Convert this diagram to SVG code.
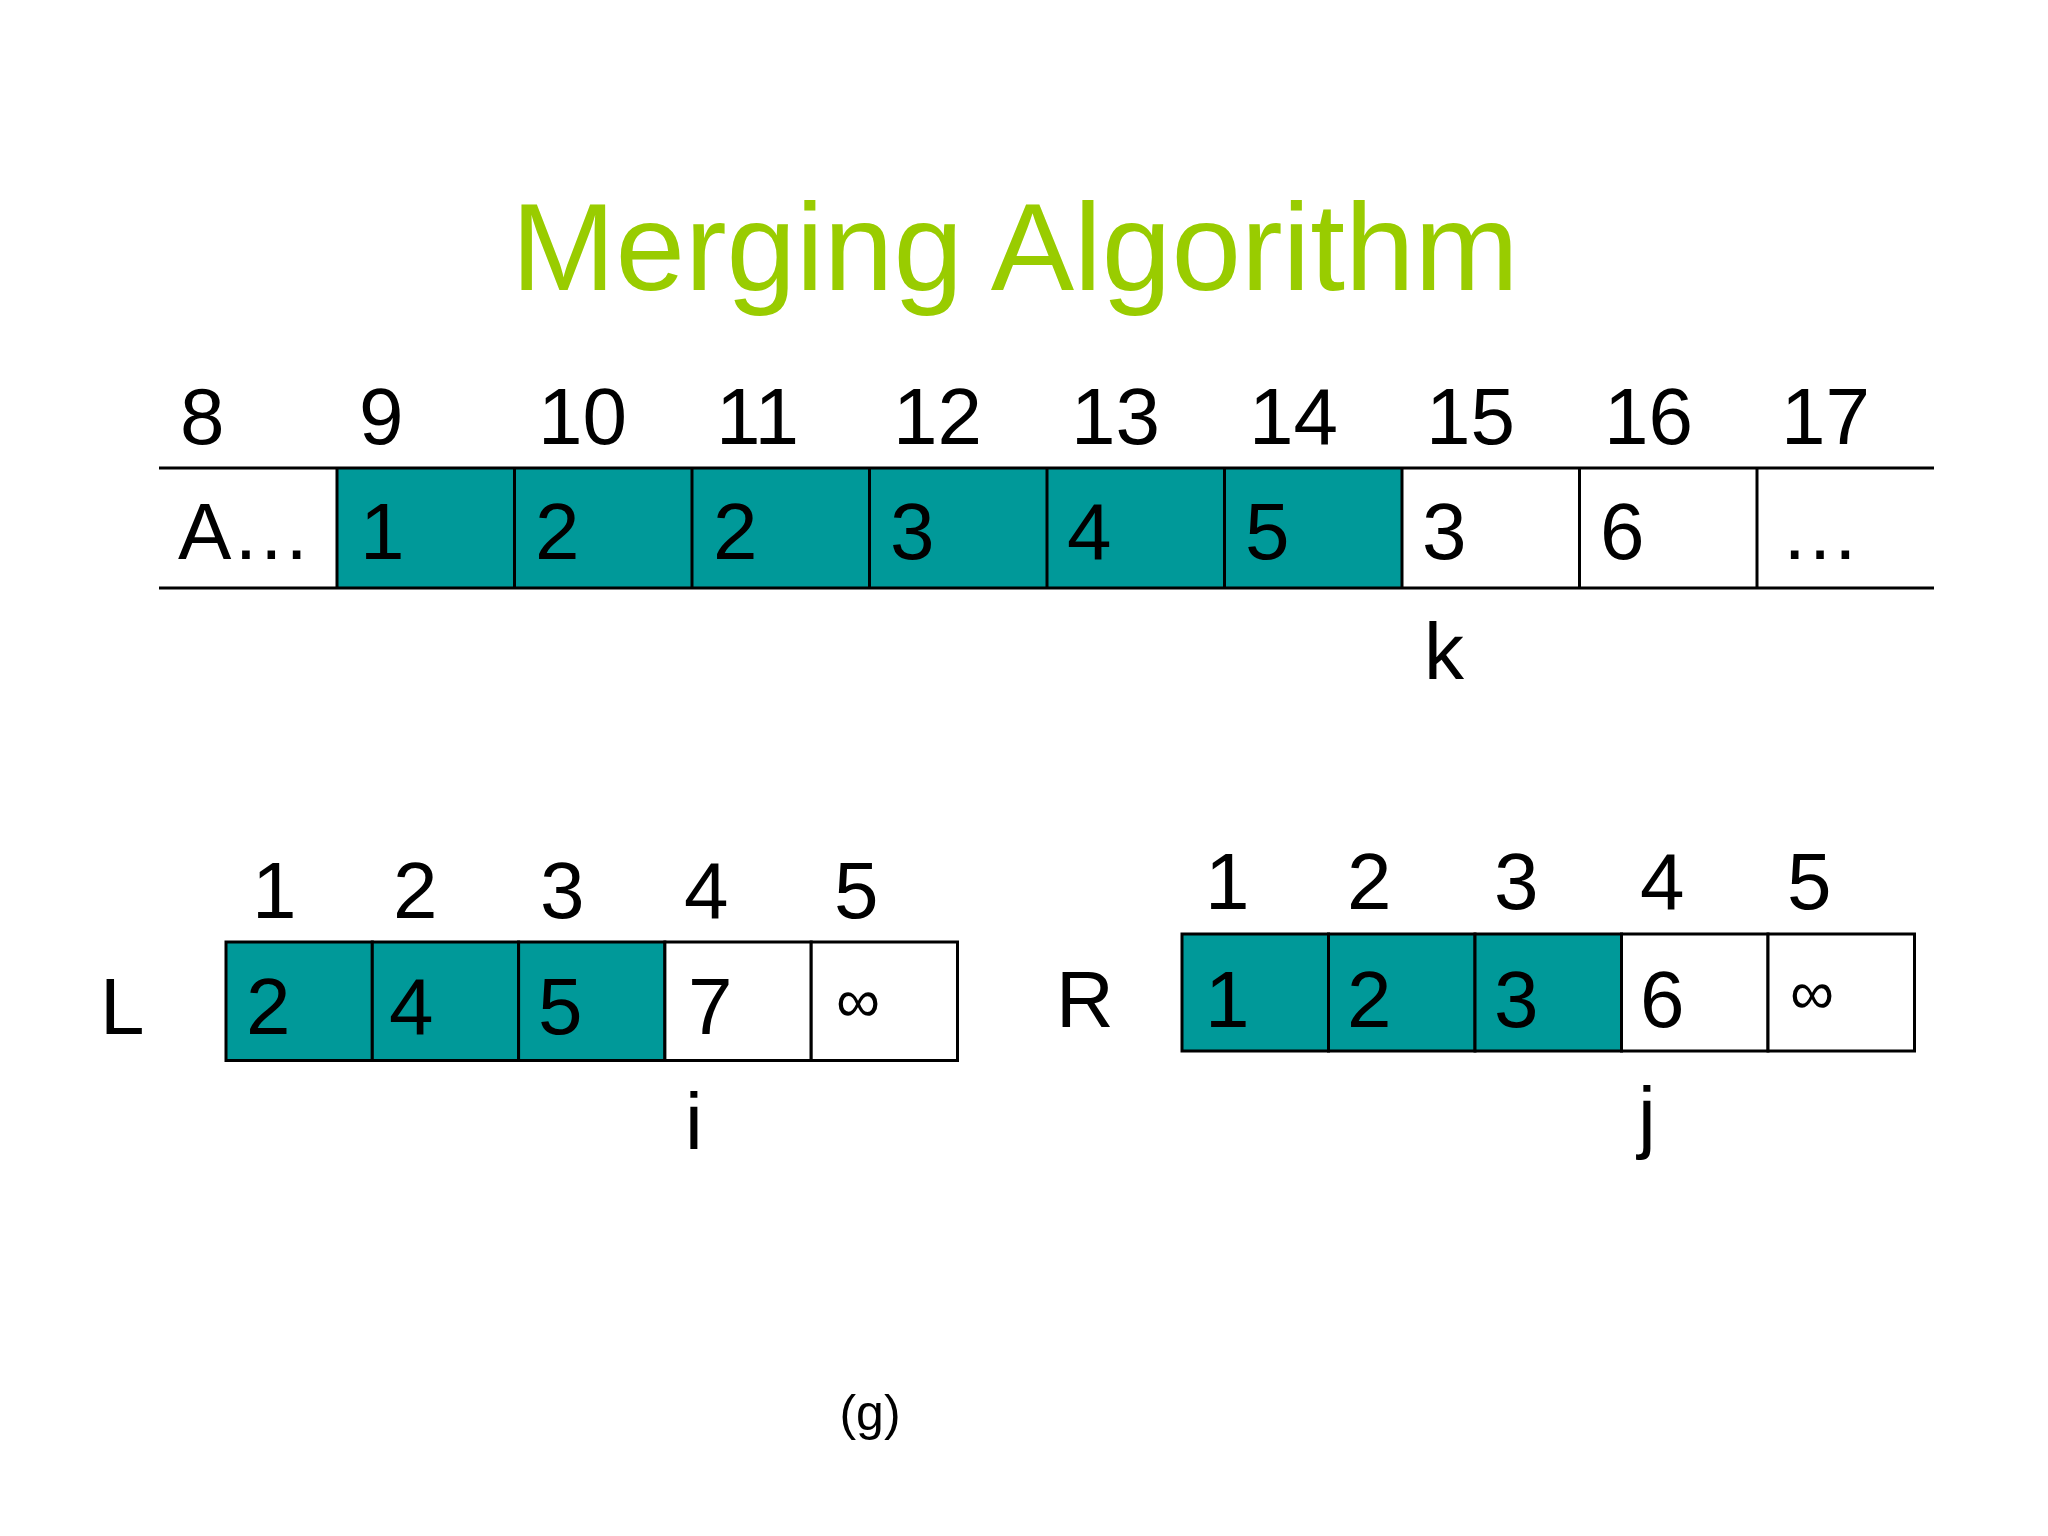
<svg xmlns="http://www.w3.org/2000/svg" width="2048" height="1536" viewBox="0 0 2048 1536">
<style>
text{font-family:"Liberation Sans",Arial,sans-serif;fill:#000}
.t{font-size:125px;fill:#99CC00}
.n{font-size:80px}
.inf{font-size:62px}
.g{font-size:50px}
.fill{fill:#009999;stroke:#000;stroke-width:3}
.empty{fill:#fff;stroke:#000;stroke-width:3}
.ln{stroke:#000;stroke-width:3;fill:none}
</style>
<rect width="2048" height="1536" fill="#fff"/>
<text class="t" x="1015" y="290" text-anchor="middle">Merging Algorithm</text>

<g id="arrayA">
<rect class="fill" x="337" y="468" width="1064" height="120" style="stroke:none"/>
<line class="ln" x1="159" y1="468" x2="1934" y2="468"/>
<line class="ln" x1="159" y1="588" x2="1934" y2="588"/>
<g class="ln">
<line x1="337" y1="468" x2="337" y2="588"/>
<line x1="514.5" y1="468" x2="514.5" y2="588"/>
<line x1="692" y1="468" x2="692" y2="588"/>
<line x1="869.5" y1="468" x2="869.5" y2="588"/>
<line x1="1047" y1="468" x2="1047" y2="588"/>
<line x1="1224.5" y1="468" x2="1224.5" y2="588"/>
<line x1="1402" y1="468" x2="1402" y2="588"/>
<line x1="1579.5" y1="468" x2="1579.5" y2="588"/>
<line x1="1757" y1="468" x2="1757" y2="588"/>
</g>
<g class="n">
<text x="180" y="444">8</text>
<text x="359" y="444">9</text>
<text x="538" y="444">10</text>
<text x="716" y="444">11</text>
<text x="893" y="444">12</text>
<text x="1071" y="444">13</text>
<text x="1249" y="444">14</text>
<text x="1426" y="444">15</text>
<text x="1604" y="444">16</text>
<text x="1781" y="444">17</text>
<text x="178" y="559">A…</text>
<text x="360" y="559">1</text>
<text x="535" y="559">2</text>
<text x="713" y="559">2</text>
<text x="890" y="559">3</text>
<text x="1067" y="559">4</text>
<text x="1245" y="559">5</text>
<text x="1422" y="559">3</text>
<text x="1600" y="559">6</text>
<text x="1780" y="559">…</text>
<text x="1424" y="679">k</text>
</g>
</g>

<g id="arrayL">
<rect class="fill" x="226" y="942" width="146.3" height="118.5"/>
<rect class="fill" x="372.3" y="942" width="146.3" height="118.5"/>
<rect class="fill" x="518.6" y="942" width="146.3" height="118.5"/>
<rect class="empty" x="664.9" y="942" width="146.3" height="118.5"/>
<rect class="empty" x="811.2" y="942" width="146.3" height="118.5"/>
<g class="n">
<text x="252" y="918">1</text>
<text x="393" y="918">2</text>
<text x="540" y="918">3</text>
<text x="684" y="918">4</text>
<text x="834" y="918">5</text>
<text x="246" y="1034">2</text>
<text x="389" y="1034">4</text>
<text x="538" y="1034">5</text>
<text x="688" y="1034">7</text>
<text x="100" y="1034">L</text>
<text x="685" y="1149">i</text>
</g>
<text class="inf" x="836" y="1022">∞</text>
</g>

<g id="arrayR">
<rect class="fill" x="1182" y="934" width="146.5" height="117"/>
<rect class="fill" x="1328.5" y="934" width="146.5" height="117"/>
<rect class="fill" x="1475" y="934" width="146.5" height="117"/>
<rect class="empty" x="1621.5" y="934" width="146.5" height="117"/>
<rect class="empty" x="1768" y="934" width="146.5" height="117"/>
<g class="n">
<text x="1205" y="909">1</text>
<text x="1347" y="909">2</text>
<text x="1494" y="909">3</text>
<text x="1640" y="909">4</text>
<text x="1787" y="909">5</text>
<text x="1205" y="1027">1</text>
<text x="1347" y="1027">2</text>
<text x="1494" y="1027">3</text>
<text x="1640" y="1027">6</text>
<text x="1056" y="1027">R</text>
<text x="1638" y="1143">j</text>
</g>
<text class="inf" x="1790" y="1014">∞</text>
</g>

<text class="g" x="870" y="1430" text-anchor="middle">(g)</text>
</svg>
